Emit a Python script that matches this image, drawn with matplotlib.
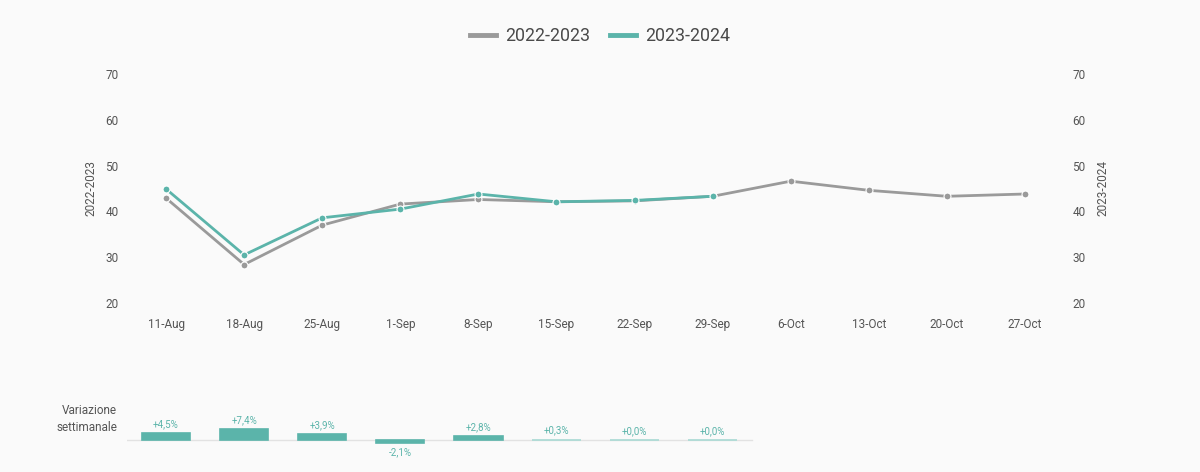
import matplotlib
matplotlib.use("Agg")
import matplotlib.pyplot as plt
import numpy as np
from matplotlib.lines import Line2D

plt.rcParams['font.family'] = ['Roboto', 'DejaVu Sans']

weeks = ["11-Aug", "18-Aug", "25-Aug", "1-Sep", "8-Sep", "15-Sep", "22-Sep",
         "29-Sep", "6-Oct", "13-Oct", "20-Oct", "27-Oct"]
series_2022 = [42.9, 28.4, 37.0, 41.6, 42.6, 42.1, 42.3, 43.3, 46.6, 44.6, 43.3, 43.8]
series_2023 = [44.9, 30.5, 38.6, 40.5, 43.8, 42.1, 42.4, 43.3]
weekly_change = [4.5, 7.4, 3.9, -2.1, 2.8, 0.3, 0.0, 0.0]
change_labels = ["+4,5%", "+7,4%", "+3,9%", "-2,1%", "+2,8%", "+0,3%", "+0,0%", "+0,0%"]
y_ticks = [20, 30, 40, 50, 60, 70]

GRAY = "#9a9a9a"
TEAL = "#5bb4aa"
TEAL_LIGHT = "#a9dad4"
BG = "#fafafa"
TXT = "#555555"

W, H = 1200, 472
fig = plt.figure(figsize=(W / 100, H / 100), dpi=100, facecolor=BG)

def px(x0, y0, x1, y1):
    return [x0 / W, 1 - y1 / H, (x1 - x0) / W, (y1 - y0) / H]

x = np.arange(len(weeks))
ax = fig.add_axes(px(127, 74, 1064, 303))
ax.set_facecolor(BG)
ax.plot(x, series_2022, color=GRAY, lw=2.0, marker='o', ms=5, mfc=GRAY,
        mec="white", mew=0.8, zorder=3, solid_capstyle='round')
ax.plot(x[:len(series_2023)], series_2023, color=TEAL, lw=2.0, marker='o', ms=5,
        mfc=TEAL, mec="white", mew=0.8, zorder=4, solid_capstyle='round')
ax.set_xlim(-0.5, len(weeks) - 0.5)
ax.set_ylim(20, 70)
ax.set_yticks(y_ticks)
ax.set_xticks(x)
ax.set_xticklabels(weeks)
ax.tick_params(axis='both', length=0, labelsize=8.5, labelcolor=TXT)
ax.tick_params(axis='x', pad=11)
ax.tick_params(axis='y', pad=6)
for s in ax.spines.values():
    s.set_visible(False)
ax.set_ylabel("2022-2023", fontsize=8.5, color=TXT, labelpad=6)

ax2 = ax.twinx()
ax2.set_ylim(20, 70)
ax2.set_yticks(y_ticks)
ax2.tick_params(axis='y', length=0, labelsize=8.5, labelcolor=TXT, pad=6)
for s in ax2.spines.values():
    s.set_visible(False)
ax2.set_ylabel("2023-2024", fontsize=8.5, color=TXT, labelpad=8)

# Legend
handles = [Line2D([0], [0], color=GRAY, lw=3.5), Line2D([0], [0], color=TEAL, lw=3.5)]
fig.legend(handles, ["2022-2023", "2023-2024"], loc='center', bbox_to_anchor=(0.5, 1 - 36 / H),
           ncol=2, frameon=False, fontsize=12.8, handlelength=1.5, handletextpad=0.5,
           columnspacing=1.1, labelcolor="#4a4a4a")

# Weekly change bars
axb = fig.add_axes(px(127, 415, 1064, 455))
axb.set_facecolor('none')
xb = np.arange(len(weekly_change))
cols = [TEAL if abs(v) >= 1 else TEAL_LIGHT for v in weekly_change]
axb.bar(xb, weekly_change, width=0.62, color=cols, edgecolor=cols, linewidth=1.2, zorder=3)
axb.plot([-0.5, len(weekly_change) - 0.5], [0, 0], color="#e2e2e2", lw=1, zorder=2)
for xi, v, lab in zip(xb, weekly_change, change_labels):
    if v >= 0:
        axb.annotate(lab, (xi, v), xytext=(0, 3), textcoords='offset points', ha='center',
                     va='bottom', fontsize=7, color=TEAL)
    else:
        axb.annotate(lab, (xi, v), xytext=(0, -3), textcoords='offset points', ha='center',
                     va='top', fontsize=7, color=TEAL)
axb.set_xlim(-0.5, len(weeks) - 0.5)
axb.set_ylim(-10, 16.8)
axb.axis('off')
fig.text(117 / W, 1 - 419 / H, "Variazione\nsettimanale", ha='right', va='center',
         fontsize=8.5, color=TXT, linespacing=1.4)

fig.savefig("out.png", dpi=100, facecolor=BG)
